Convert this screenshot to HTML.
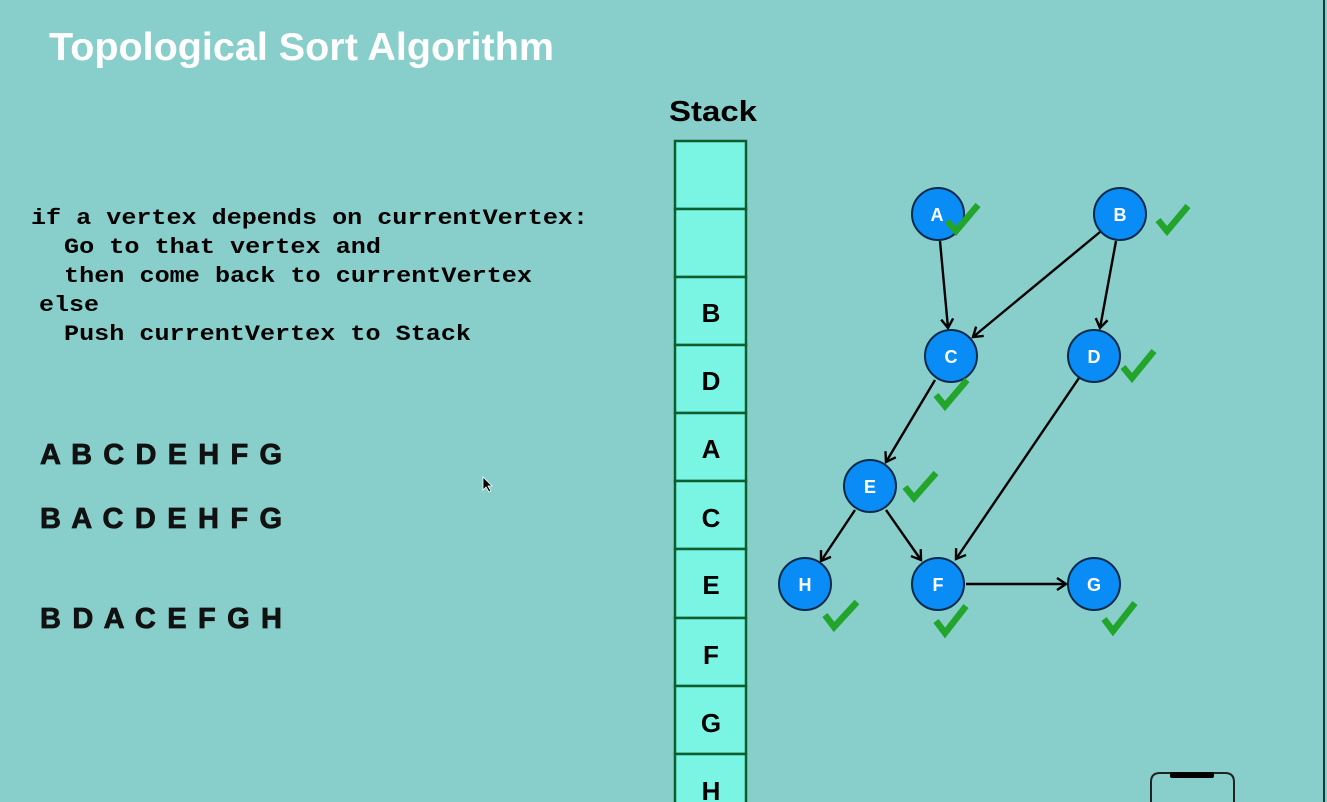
<!DOCTYPE html>
<html><head><meta charset="utf-8"><style>
html,body{margin:0;padding:0;background:#88cfcc;}
svg{display:block;}
</style></head><body>
<svg width="1327" height="802" viewBox="0 0 1327 802" xmlns="http://www.w3.org/2000/svg">
<defs>
<marker id="ar" markerWidth="14" markerHeight="14" refX="11" refY="7" orient="auto" markerUnits="userSpaceOnUse">
<polyline points="2,1 11,7 2,13" fill="none" stroke="#000" stroke-width="2.4"/>
</marker>
</defs>
<rect width="1327" height="802" fill="#88cfcc"/>
<line x1="1324" y1="0" x2="1324" y2="802" stroke="#1a3a3a" stroke-width="2"/>
<text x="49" y="60" font-family="Liberation Sans, sans-serif" font-weight="bold" font-size="39" fill="#fff" textLength="505" lengthAdjust="spacingAndGlyphs">Topological Sort Algorithm</text>
<text x="669" y="121" font-family="Liberation Sans, sans-serif" font-weight="bold" font-size="29" fill="#000" textLength="88" lengthAdjust="spacingAndGlyphs">Stack</text>

<g font-family="Liberation Mono, monospace" font-weight="bold" font-size="22" fill="#000" style="white-space:pre">
<text x="31" y="224" textLength="557" lengthAdjust="spacingAndGlyphs">if a vertex depends on currentVertex:</text>
<text x="64" y="253" textLength="317" lengthAdjust="spacingAndGlyphs">Go to that vertex and</text>
<text x="64" y="282" textLength="468" lengthAdjust="spacingAndGlyphs">then come back to currentVertex</text>
<text x="39" y="311" textLength="60" lengthAdjust="spacingAndGlyphs">else</text>
<text x="64" y="340" textLength="407" lengthAdjust="spacingAndGlyphs">Push currentVertex to Stack</text>
</g>
<g font-family="Liberation Sans, sans-serif" font-weight="bold" font-size="29" fill="#111" stroke="#111" stroke-width="0.8">
<text x="40" y="464" textLength="242">A B C D E H F G</text>
<text x="40" y="528" textLength="242">B A C D E H F G</text>
<text x="40" y="628" textLength="242">B D A C E F G H</text>
</g>
<path d="M483,477 L483,490 L486,487 L489,492 L491,491 L488,486 L492,486 Z" fill="#000" stroke="#fff" stroke-width="0.8"/>

<g stroke="#0c5e2e" stroke-width="2.5" fill="#7af5e4">
<rect x="675" y="141" width="71" height="68"/>
<rect x="675" y="209" width="71" height="68"/>
<rect x="675" y="277" width="71" height="68"/>
<rect x="675" y="345" width="71" height="68"/>
<rect x="675" y="413" width="71" height="68"/>
<rect x="675" y="481" width="71" height="68"/>
<rect x="675" y="549" width="71" height="69"/>
<rect x="675" y="618" width="71" height="68"/>
<rect x="675" y="686" width="71" height="68"/>
<rect x="675" y="754" width="71" height="68"/>
</g>
<g font-family="Liberation Sans, sans-serif" font-weight="bold" font-size="26" fill="#000" text-anchor="middle">
<text x="711" y="322">B</text>
<text x="711" y="390">D</text>
<text x="711" y="458">A</text>
<text x="711" y="527">C</text>
<text x="711" y="594">E</text>
<text x="711" y="664">F</text>
<text x="711" y="732">G</text>
<text x="711" y="800">H</text>
</g>

<g stroke="#000" stroke-width="2.4" marker-end="url(#ar)">
<line x1="940" y1="241" x2="948" y2="328"/>
<line x1="1100" y1="232" x2="973" y2="337"/>
<line x1="1116" y1="241" x2="1100" y2="328"/>
<line x1="935" y1="380" x2="886" y2="462"/>
<line x1="1079" y1="378" x2="956" y2="559"/>
<line x1="855" y1="510" x2="821" y2="561"/>
<line x1="886" y1="510" x2="921" y2="560"/>
<line x1="966" y1="584" x2="1066" y2="584"/>
</g>

<g fill="#0a8cf7" stroke="#0a2a4a" stroke-width="2">
<circle cx="938" cy="214" r="26"/>
<circle cx="1120" cy="214" r="26"/>
<circle cx="951" cy="356" r="26"/>
<circle cx="1094" cy="356" r="26"/>
<circle cx="870" cy="486" r="26"/>
<circle cx="805" cy="584" r="26"/>
<circle cx="938" cy="584" r="26"/>
<circle cx="1094" cy="584" r="26"/>
</g>
<g font-family="Liberation Sans, sans-serif" font-weight="bold" font-size="18" fill="#fff" text-anchor="middle">
<text x="937" y="221">A</text>
<text x="1120" y="221">B</text>
<text x="951" y="363">C</text>
<text x="1094" y="363">D</text>
<text x="870" y="493">E</text>
<text x="805" y="591">H</text>
<text x="938" y="591">F</text>
<text x="1094" y="591">G</text>
</g>

<g fill="none" stroke="#22a52a" stroke-width="6.5" stroke-linejoin="miter">
<polyline points="947,221 956,231 978,205"/>
<polyline points="1158,220 1167,231 1188,206"/>
<polyline points="936,395 945,406 967,380"/>
<polyline points="1123,367 1132,378 1154,351"/>
<polyline points="905,487 914,498 936,473"/>
<polyline points="825,615 834,627 857,602"/>
<polyline points="936,621 945,633 966,606"/>
<polyline points="1104,619 1113,631 1135,603"/>
</g>

<path d="M1151,802 L1151,782 Q1151,773 1160,773 L1225,773 Q1234,773 1234,782 L1234,802" fill="none" stroke="#222" stroke-width="2"/>
<rect x="1170" y="772" width="44" height="6" rx="2" fill="#000"/>
</svg>
</body></html>
